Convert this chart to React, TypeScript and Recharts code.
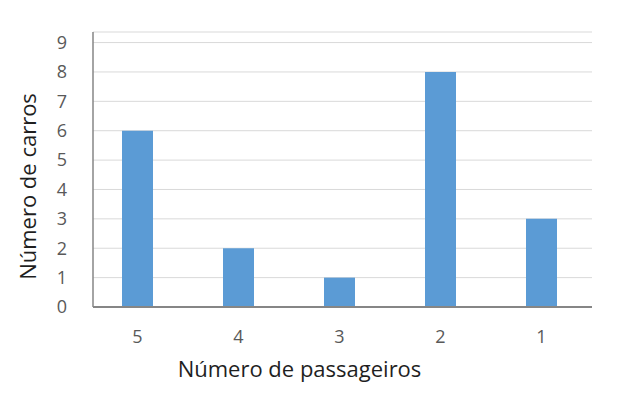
import React from 'react';
import { BarChart, Bar, XAxis, YAxis, CartesianGrid, Label } from 'recharts';

const passengers = ['5', '4', '3', '2', '1'];
const cars = [6, 2, 1, 8, 3];
const yTicks = [0, 1, 2, 3, 4, 5, 6, 7, 8, 9];

const data = passengers.map((p, i) => ({ passengers: p, cars: cars[i] }));

const FONT = '"Open Sans", sans-serif';

const YTitle = ({ viewBox }: any) => {
  const cx = viewBox.x + 27;
  const cy = viewBox.y + viewBox.height / 2 + 17;
  return (
    <text x={cx} y={cy} transform={`rotate(-90 ${cx} ${cy})`} textAnchor="middle" dominantBaseline="central"
      fontFamily={FONT} fontSize={22} fill="#1f1f1f">
      Número de carros
    </text>
  );
};

const XTitle = ({ viewBox }: any) => {
  const cx = viewBox.x + viewBox.width / 2 - 43;
  return (
    <text x={cx} y={viewBox.y + 70} textAnchor="middle" fontFamily={FONT} fontSize={22} fill="#1f1f1f">
      Número de passageiros
    </text>
  );
};

const App: React.FC = () => {
  return (
    <div style={{ position: 'absolute', left: 0, top: 0, width: 639, height: 409, background: '#fff' }}>
      <BarChart width={639} height={409} data={data} margin={{ top: 32, right: 47, left: 0, bottom: 0 }}>
        <CartesianGrid vertical={false} stroke="#d9d9d9" strokeWidth={1} />
        <XAxis
          dataKey="passengers"
          height={102}
          tickLine={false}
          axisLine={{ stroke: '#868686', strokeWidth: 2 }}
          padding={{ left: -6, right: 0 }}
          tick={{ fill: '#595959', fontSize: 18, fontFamily: FONT }}
          tickMargin={17}
        >
          <Label content={<XTitle />} />
        </XAxis>
        <YAxis
          width={93}
          domain={[0, 9.36]}
          ticks={yTicks}
          interval={0}
          tickLine={false}
          axisLine={{ stroke: '#868686', strokeWidth: 1.5 }}
          tick={{ fill: '#595959', fontSize: 18, fontFamily: FONT }}
          tickMargin={20}
        >
          <Label content={<YTitle />} />
        </YAxis>
        <Bar dataKey="cars" fill="#5b9bd5" barSize={31} isAnimationActive={false} />
      </BarChart>
    </div>
  );
};

export default App;
